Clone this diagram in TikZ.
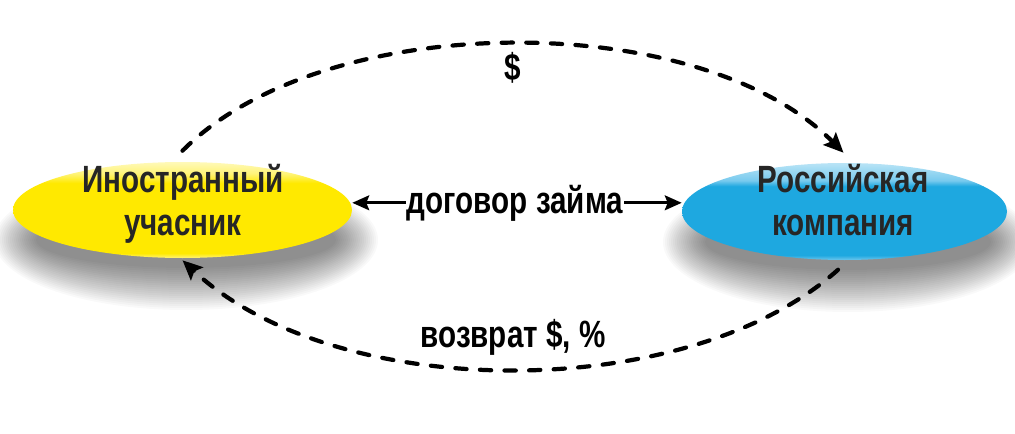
\documentclass[tikz,border=0pt]{standalone}
\usepackage{fontspec}
\newfontfamily\cond[FakeStretch=0.78]{Liberation Sans}
\usetikzlibrary{arrows.meta,calc,shapes.geometric}
\definecolor{Ymain}{RGB}{255,233,0}
\definecolor{Ylight}{RGB}{255,244,120}
\definecolor{Ytop}{RGB}{255,249,185}
\definecolor{Yrim}{RGB}{255,243,120}
\definecolor{Bmain}{RGB}{30,168,224}
\definecolor{Blight}{RGB}{120,202,238}
\definecolor{Btop}{RGB}{185,228,246}
\definecolor{Brim}{RGB}{110,198,236}
\definecolor{txtgray}{RGB}{38,38,38}
\pgfdeclareverticalshading{yshade}{100bp}{color(0bp)=(Yrim); color(25bp)=(Yrim); color(27.5bp)=(Ymain); color(64bp)=(Ymain); color(69bp)=(Ylight); color(75bp)=(Ytop); color(100bp)=(Ytop)}
\pgfdeclareverticalshading{bshade}{100bp}{color(0bp)=(Brim); color(25bp)=(Brim); color(27.5bp)=(Bmain); color(63bp)=(Bmain); color(66bp)=(Blight); color(75bp)=(Btop); color(100bp)=(Btop)}
\begin{document}
\begin{tikzpicture}[x=0.025cm,y=-0.025cm,
  ell/.style={ellipse, draw=none, inner sep=0pt, shade},
  txt/.style={font=\cond\bfseries\fontsize{27}{30}\selectfont, inner sep=0pt},
  midtxt/.style={font=\cond\bfseries\fontsize{27}{30}\selectfont, inner sep=0.6pt, text=black},
  dashconn/.style={line width=3pt, line cap=round, dash pattern=on 8pt off 9.5pt, -{Stealth[length=14pt,width=12.5pt,inset=2.5pt]}},
  solidconn/.style={line width=2pt, -{Stealth[length=12pt,width=10.5pt,inset=2pt]}}
]
\fill[white] (0,0) rectangle (1015,434);
\useasboundingbox (0,0) rectangle (1015,434);
% soft shadows
\foreach \i in {0,...,21}{
  \fill[black,opacity=0.022] (186,240) ellipse [x radius=150+2*\i, y radius=28+2*\i];
  \fill[black,opacity=0.022] (848,242) ellipse [x radius=143+2*\i, y radius=28+2*\i];
}
% ellipses
\node[ell, shading=yshade, minimum width=339*0.025cm, minimum height=96*0.025cm] (Y) at (182.5,210) {};
\node[ell, shading=bshade, minimum width=325*0.025cm, minimum height=97*0.025cm] (B) at (844.5,211.5) {};
% texts
\node[txt, anchor=base, text=txtgray] (Y1) at (183,192) {Иностранный};
\node[txt, anchor=base, text=txtgray] (Y2) at (183,235) {учасник};
\node[txt, anchor=base, text=txtgray] (B1) at (843,192) {Российская};
\node[txt, anchor=base, text=txtgray] (B2) at (843,235) {компания};
\node[midtxt, anchor=base] (M) at (515,213) {договор займа};
\node[txt, anchor=base, text=black] (D) at (513,80) {\$};
\node[txt, anchor=base, text=black] (R) at (513,347) {возврат \$, \%};
% connectors
\draw[solidconn] (M.west) -- (M.west -| Y.east);
\draw[solidconn] (M.east) -- (M.east -| B.west);
\draw[dashconn] ($(Y.north)+(0,-11)$) .. controls (325,8) and (700,8) .. ($(B.north)+(-1,-10)$);
\draw[dashconn] ($(B.south)+(-6.5,9.5)$) .. controls (688,404) and (336,404) .. ($(Y.south)+(0,2)$);
\end{tikzpicture}
\end{document}
